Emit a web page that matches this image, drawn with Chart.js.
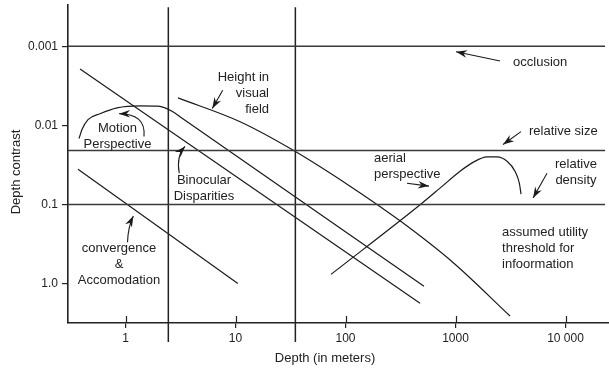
<!DOCTYPE html>
<html><head><meta charset="utf-8">
<script src="https://cdn.jsdelivr.net/npm/chart.js@4/dist/chart.umd.min.js"></script>
<style>html,body{margin:0;padding:0;background:#fff}#wrap{width:609px;height:370px}</style>
</head><body><div id="wrap"><canvas id="c" width="609" height="370"></canvas></div>
<script>
// ---- tick labels ----
const xTicks = [1, 10, 100, 1000, 10000];
const xTickLabels = ['1', '10', '100', '1000', '10 000'];
const yTicks = [0.001, 0.01, 0.1, 1];
const yTickLabels = ['0.001', '0.01', '0.1', '1.0'];
const depthRange = [0.3, 24850];
const contrastRange = [0.000321, 3.17];

// ---- depth cue curves (depth in m, depth contrast) ----
const convergenceDepth = [0.37, 10.5];
const convergenceContrast = [0.036, 1.0];
const binocularDepth = [0.386, 476];
const binocularContrast = [0.00194, 1.78];
const motionDepth = [0.378, 0.402, 0.456, 0.586, 0.837, 1.354, 1.975, 2.286, 2.647, 3.475, 517];
const motionContrast = [0.01469, 0.01132, 0.00848, 0.00713, 0.00600, 0.00566, 0.00571, 0.00600, 0.00663, 0.00863, 1.087];
const heightDepth = [3.0, 11.0, 32.6, 110, 313, 949, 3130];
const heightContrast = [0.00449, 0.00899, 0.0202, 0.0588, 0.1615, 0.5435, 2.587];
const aerialDepth = [73.8, 486, 723, 1099, 1443, 1934, 2384, 2939, 3474, 3802, 3940];
const aerialContrast = [0.769, 0.0989, 0.0623, 0.0381, 0.0294, 0.0251, 0.0251, 0.0285, 0.0381, 0.0539, 0.0740];
// constant cues (horizontal lines)
const levelDepthSpan = [0.3, 22860];
const occlusionLevel = 0.001;
const relativeSizeLevel = 0.0208;
const relativeDensityLevel = 0.1;
// space boundaries (vertical lines)
const boundaryDepths = [2.45, 35];
const boundaryContrastSpan = [0.000321, 5.5];

// ---- annotations (data coordinates) ----
const notes = [
  {lines: ['occlusion'], x: 3334, y: 0.00159, align: 'left'},
  {lines: ['relative size'], x: 4656, y: 0.0120, align: 'left'},
  {lines: ['relative', 'density'], x: 12450, y: 0.0311, align: 'center'},
  {lines: ['aerial', 'perspective'], x: 181.6, y: 0.0262, align: 'left'},
  {lines: ['assumed utility', 'threshold for', 'infoormation'], x: 2648, y: 0.2286, align: 'left'},
  {lines: ['convergence', '&', 'Accomodation'], x: 0.873, y: 0.363, align: 'center'},
  {lines: ['Binocular', 'Disparities'], x: 5.17, y: 0.0494, align: 'center'},
  {lines: ['Motion', 'Perspective'], x: 0.846, y: 0.0110, align: 'center'},
  {lines: ['Height in', 'visual', 'field'], x: 20.16, y: 0.00245, align: 'right'}
];
const arrows = [
  {from: [2541, 0.00153], to: [1011, 0.00117]},
  {from: [3940, 0.0120], to: [2704, 0.01746]},
  {from: [6790, 0.0404], to: [5070, 0.0832]},
  {from: [362, 0.0540], to: [574, 0.0587]},
  {from: [1.043, 0.301], ctrl: [1.054, 0.192], to: [1.178, 0.140]},
  {from: [3.08, 0.0404], ctrl: [2.88, 0.0247], to: [3.47, 0.0185]},
  {from: [1.473, 0.01387], ctrl: [1.536, 0.00713], to: [0.873, 0.00713]},
  {from: [7.65, 0.00360], to: [6.15, 0.00612]}
];

const INK = '#1a1a1a';
const FONT = '"Liberation Sans", Arial, Helvetica, sans-serif';
Chart.defaults.font.family = FONT;

const pts = (xs, ys) => xs.map((x, i) => ({x: x, y: ys[i]}));
const level = v => levelDepthSpan.map(x => ({x: x, y: v}));
const curve = (xs, ys, smooth) => ({
  data: pts(xs, ys), borderColor: INK, borderWidth: 1.2, pointRadius: 0, fill: false,
  cubicInterpolationMode: smooth ? 'monotone' : 'default', tension: 0
});
const hline = v => ({data: level(v), borderColor: '#3a3a3a', borderWidth: 1.5, pointRadius: 0, fill: false});
const vline = d => ({data: boundaryContrastSpan.map(y => ({x: d, y: y})), borderColor: '#222', borderWidth: 1.5, pointRadius: 0, fill: false, clip: false});

const annotate = {
  id: 'annotate',
  afterDraw(chart) {
    const ctx = chart.ctx, xs = chart.scales.x, ys = chart.scales.y;
    const P = p => [xs.getPixelForValue(p[0]), ys.getPixelForValue(p[1])];
    ctx.save();
    // tick stubs above the x axis
    ctx.strokeStyle = '#222'; ctx.lineWidth = 1.2;
    const b = chart.chartArea.bottom;
    xTicks.forEach(v => { const px = Math.round(xs.getPixelForValue(v)) + 0.5; ctx.beginPath(); ctx.moveTo(px, b); ctx.lineTo(px, b - 7); ctx.stroke(); });
    // notes
    ctx.fillStyle = '#222';
    ctx.font = '13px ' + FONT;
    ctx.textBaseline = 'middle';
    notes.forEach(n => {
      const [px, py] = P([n.x, n.y]);
      ctx.textAlign = n.align;
      n.lines.forEach((t, i) => ctx.fillText(t, px, py + i * 16));
    });
    // arrows
    ctx.strokeStyle = INK; ctx.fillStyle = INK; ctx.lineWidth = 1.1;
    arrows.forEach(a => {
      const f = P(a.from), t = P(a.to);
      let dirFrom = f;
      ctx.beginPath(); ctx.moveTo(f[0], f[1]);
      if (a.ctrl) { const c = P(a.ctrl); ctx.quadraticCurveTo(c[0], c[1], t[0], t[1]); dirFrom = c; }
      else ctx.lineTo(t[0], t[1]);
      ctx.stroke();
      const ang = Math.atan2(t[1] - dirFrom[1], t[0] - dirFrom[0]);
      const L = 11, W = 3.8, N = 7.5;
      const ca = Math.cos(ang), sa = Math.sin(ang);
      const back = (d, s) => [t[0] - d * ca - s * sa, t[1] - d * sa + s * ca];
      const p1 = back(L, W), p2 = back(N, 0), p3 = back(L, -W);
      ctx.beginPath(); ctx.moveTo(t[0], t[1]); ctx.lineTo(p1[0], p1[1]); ctx.lineTo(p2[0], p2[1]); ctx.lineTo(p3[0], p3[1]); ctx.closePath(); ctx.fill();
    });
    // axis titles
    ctx.fillStyle = '#222';
    ctx.font = '13px ' + FONT;
    ctx.textAlign = 'center'; ctx.textBaseline = 'middle';
    ctx.fillText('Depth (in meters)', 325, 358);
    ctx.translate(16, 172); ctx.rotate(-Math.PI / 2);
    ctx.fillText('Depth contrast', 0, 0);
    ctx.restore();
  }
};

new Chart(document.getElementById('c'), {
  type: 'line',
  data: {
    datasets: [
      hline(occlusionLevel), hline(relativeSizeLevel), hline(relativeDensityLevel),
      vline(boundaryDepths[0]), vline(boundaryDepths[1]),
      curve(convergenceDepth, convergenceContrast, false),
      curve(binocularDepth, binocularContrast, false),
      curve(motionDepth, motionContrast, true),
      curve(heightDepth, heightContrast, true),
      curve(aerialDepth, aerialContrast, true)
    ]
  },
  options: {
    responsive: false, animation: false, devicePixelRatio: 1,
    layout: {padding: {top: 5, right: 0, left: 0, bottom: 0}},
    plugins: {legend: {display: false}, tooltip: {enabled: false}},
    scales: {
      x: {
        type: 'logarithmic', position: 'bottom', min: depthRange[0], max: depthRange[1],
        afterBuildTicks: s => { s.ticks = xTicks.map(v => ({value: v})); },
        afterFit: s => { s.height = 47; s.paddingLeft = 0; s.paddingRight = 0; },
        ticks: {autoSkip: false, maxRotation: 0, color: '#222', font: {size: 12}, padding: 3,
          callback: v => xTickLabels[xTicks.indexOf(v)]},
        grid: {drawOnChartArea: false, drawTicks: true, tickLength: 5, color: '#222', lineWidth: 1.2},
        border: {display: true, color: '#222', width: 1.6}
      },
      y: {
        type: 'logarithmic', reverse: true, min: contrastRange[0], max: contrastRange[1],
        afterBuildTicks: s => { s.ticks = yTicks.map(v => ({value: v})); },
        afterFit: s => { s.width = 68; s.paddingTop = 0; s.paddingBottom = 0; },
        ticks: {autoSkip: false, color: '#222', font: {size: 12}, padding: 4,
          callback: v => yTickLabels[yTicks.indexOf(v)]},
        grid: {drawOnChartArea: false, drawTicks: true, tickLength: 6, color: '#222', lineWidth: 1.2},
        border: {display: true, color: '#222', width: 1.6}
      }
    }
  },
  plugins: [annotate]
});
</script></body></html>
